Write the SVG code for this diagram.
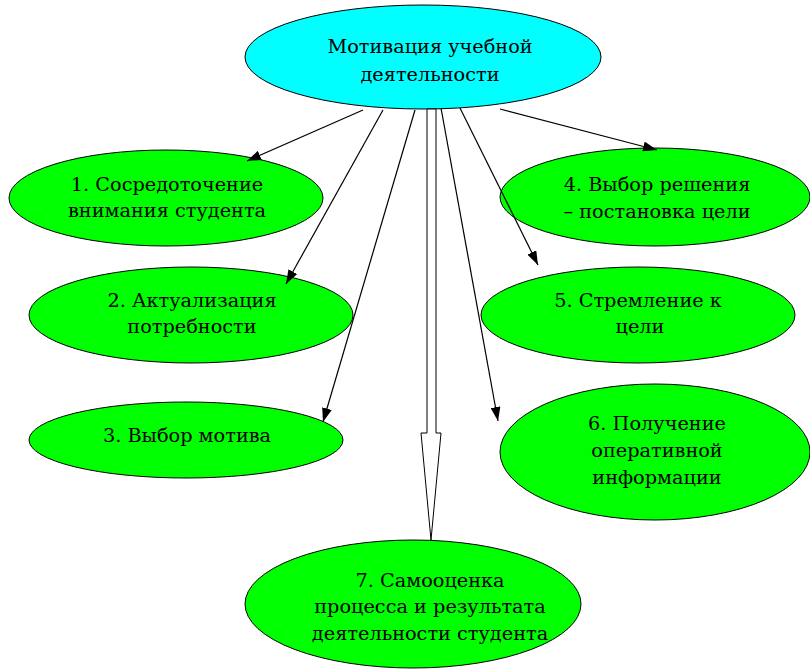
<svg xmlns="http://www.w3.org/2000/svg" width="810" height="671" viewBox="0 0 810 671">
<style>
.n ellipse{fill:#00ff00;stroke:#000;stroke-width:1}
#top ellipse{fill:#00ffff;stroke:#000;stroke-width:1}
text{font-family:'DejaVu Serif','Liberation Serif',serif;font-size:19.3px;fill:#000;text-anchor:middle}
.c line{stroke:#000;stroke-width:1.2;marker-end:url(#ah)}
</style>
<defs>
<marker id="ah" viewBox="0 0 14 10" refX="14" refY="5" markerWidth="14" markerHeight="10" markerUnits="userSpaceOnUse" orient="auto">
<path d="M0,0 L14,5 L0,10 Z" fill="#000"/>
</marker>
</defs>
<rect width="810" height="671" fill="#fff"/>
<g id="top"><ellipse cx="423" cy="57" rx="178" ry="52"/><text x="430" y="53">Мотивация учебной</text><text x="430" y="81">деятельности</text></g>
<g id="n1" class="n"><ellipse cx="166" cy="198" rx="157" ry="48"/><text x="167" y="191">1. Сосредоточение</text><text x="167" y="217">внимания студента</text></g>
<g id="n2" class="n"><ellipse cx="191" cy="315" rx="162" ry="48"/><text x="192" y="307">2. Актуализация</text><text x="192" y="333">потребности</text></g>
<g id="n3" class="n"><ellipse cx="186" cy="440" rx="157" ry="38"/><text x="187" y="442">3. Выбор мотива</text></g>
<g id="n4" class="n"><ellipse cx="655" cy="197" rx="155" ry="49"/><text x="657" y="191">4. Выбор решения</text><text x="657" y="218">– постановка цели</text></g>
<g id="n5" class="n"><ellipse cx="638" cy="315" rx="157" ry="48"/><text x="638" y="307">5. Стремление к</text><text x="640" y="333">цели</text></g>
<g id="n6" class="n"><ellipse cx="655" cy="452" rx="155" ry="68"/><text x="657" y="430">6. Получение</text><text x="657" y="457">оперативной</text><text x="657" y="484">информации</text></g>
<g id="n7" class="n"><ellipse cx="413" cy="604" rx="168" ry="64"/><text x="430" y="587">7. Самооценка</text><text x="430" y="613">процесса и результата</text><text x="430" y="640">деятельности студента</text></g>
<g id="connectors" class="c">
<line x1="363" y1="110" x2="247" y2="161"/>
<line x1="383" y1="110" x2="286" y2="284"/>
<line x1="415" y1="110" x2="323" y2="422"/>
<line x1="500" y1="109" x2="657" y2="150"/>
<line x1="460" y1="108" x2="538" y2="265"/>
<line x1="441" y1="108" x2="498" y2="421"/>
<polygon points="427,109 427,433 421,433 431,540 441,433 436,433 436,109" fill="#fff" stroke="#000" stroke-width="1"/>
</g>
</svg>
